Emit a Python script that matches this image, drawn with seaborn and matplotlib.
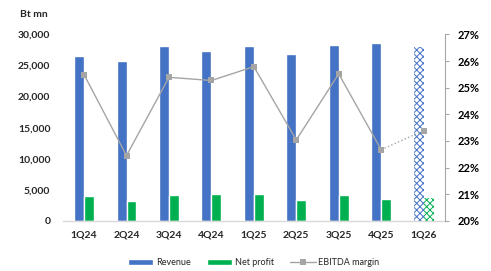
import numpy as np
import pandas as pd
import matplotlib
matplotlib.use("Agg")
import matplotlib.pyplot as plt
from matplotlib.patches import Patch
from matplotlib.lines import Line2D
import seaborn as sns

quarters = ["1Q24", "2Q24", "3Q24", "4Q24", "1Q25", "2Q25", "3Q25", "4Q25", "1Q26"]
revenue = [26600, 25750, 28150, 27400, 28100, 26800, 28250, 28550, 28050]
net_profit = [4000, 3250, 4150, 4250, 4250, 3400, 4200, 3550, 3700]
ebitda_margin = [25.49, 22.45, 25.39, 25.27, 25.79, 23.04, 25.52, 22.67, 23.39]

blue = "#4472C4"
green = "#00B050"
grey = "#A5A5A5"

sns.set_style("white")
plt.rcParams["font.family"] = ["Lato", "DejaVu Sans"]
plt.rcParams["hatch.linewidth"] = 0.7

df = pd.DataFrame({
    "quarter": quarters * 2,
    "value": revenue + net_profit,
    "series": ["Revenue"] * len(quarters) + ["Net profit"] * len(quarters),
})

fig = plt.figure(figsize=(4.91, 2.71), dpi=100)
ax = fig.add_axes([0.128, 0.185, 0.778, 0.688])

sns.barplot(data=df, x="quarter", y="value", hue="series", order=quarters,
            hue_order=["Revenue", "Net profit"], palette=[blue, green],
            width=0.47, ax=ax, legend=False, saturation=1)

# last quarter is a forecast: hatched bars
n = len(quarters)
for i, bar in enumerate(ax.patches):
    if i in (n - 1, 2 * n - 1):
        col = blue if i == n - 1 else green
        bar.set_facecolor("white")
        bar.set_edgecolor(col)
        bar.set_hatch("xxxxx")
        bar.set_linewidth(0)

ax.set_ylim(0, 30000)
ax.set_xlim(-0.5, n - 0.5)
ax.set_yticks(np.arange(0, 30001, 5000))
ax.set_yticklabels([f"{v:,}" for v in range(0, 30001, 5000)], fontweight="bold", fontsize=7.5, color="#262626")
ax.set_xticks(range(n))
ax.set_xticklabels(quarters, fontweight="bold", fontsize=7.5, color="#262626")
ax.tick_params(axis="y", length=0, pad=9)
ax.tick_params(axis="x", length=0, pad=7)
ax.set_xlabel("")
ax.set_ylabel("")
for s in ["left", "top", "right"]:
    ax.spines[s].set_visible(False)
ax.spines["bottom"].set_color("#D9D9D9")
ax.spines["bottom"].set_linewidth(1)

ax2 = ax.twinx()
pos = np.arange(n)
line_df = pd.DataFrame({"x": pos, "m": ebitda_margin})
sns.lineplot(data=line_df.iloc[:n - 1], x="x", y="m", ax=ax2, color=grey,
             marker="s", markersize=4, markeredgewidth=0, linewidth=1)
sns.lineplot(data=line_df.iloc[n - 2:], x="x", y="m", ax=ax2, color=grey,
             linestyle=":", linewidth=1, marker="s", markersize=4, markeredgewidth=0)
ax2.set_ylim(20, 27)
ax2.set_xlim(-0.5, n - 0.5)
ax2.set_yticks(range(20, 28))
ax2.set_yticklabels([f"{v}%" for v in range(20, 28)], fontweight="bold", fontsize=8, color="black")
ax2.tick_params(axis="y", length=3, width=0.8, color="#A6A6A6", pad=6, direction="out")
ax2.set_ylabel("")
ax2.set_xlabel("")
for s in ["left", "top", "bottom"]:
    ax2.spines[s].set_visible(False)
ax2.spines["right"].set_color("#A6A6A6")
ax2.spines["right"].set_linewidth(0.8)

fig.text(0.04, 0.945, "Bt mn", fontsize=7.5, fontweight="bold", color="#262626", va="center")

handles = [Patch(facecolor=blue), Patch(facecolor=green),
           Line2D([], [], color=grey, marker="s", markersize=4, markeredgewidth=0, linewidth=1)]
ax.legend(handles, ["Revenue", "Net profit", "EBITDA margin"], loc="center",
          bbox_to_anchor=(0.5, -0.225), ncol=3, frameon=False, fontsize=6.5,
          handlelength=2.8, handleheight=0.6, columnspacing=1.8, handletextpad=0.3)

fig.savefig("out.png", dpi=100)
